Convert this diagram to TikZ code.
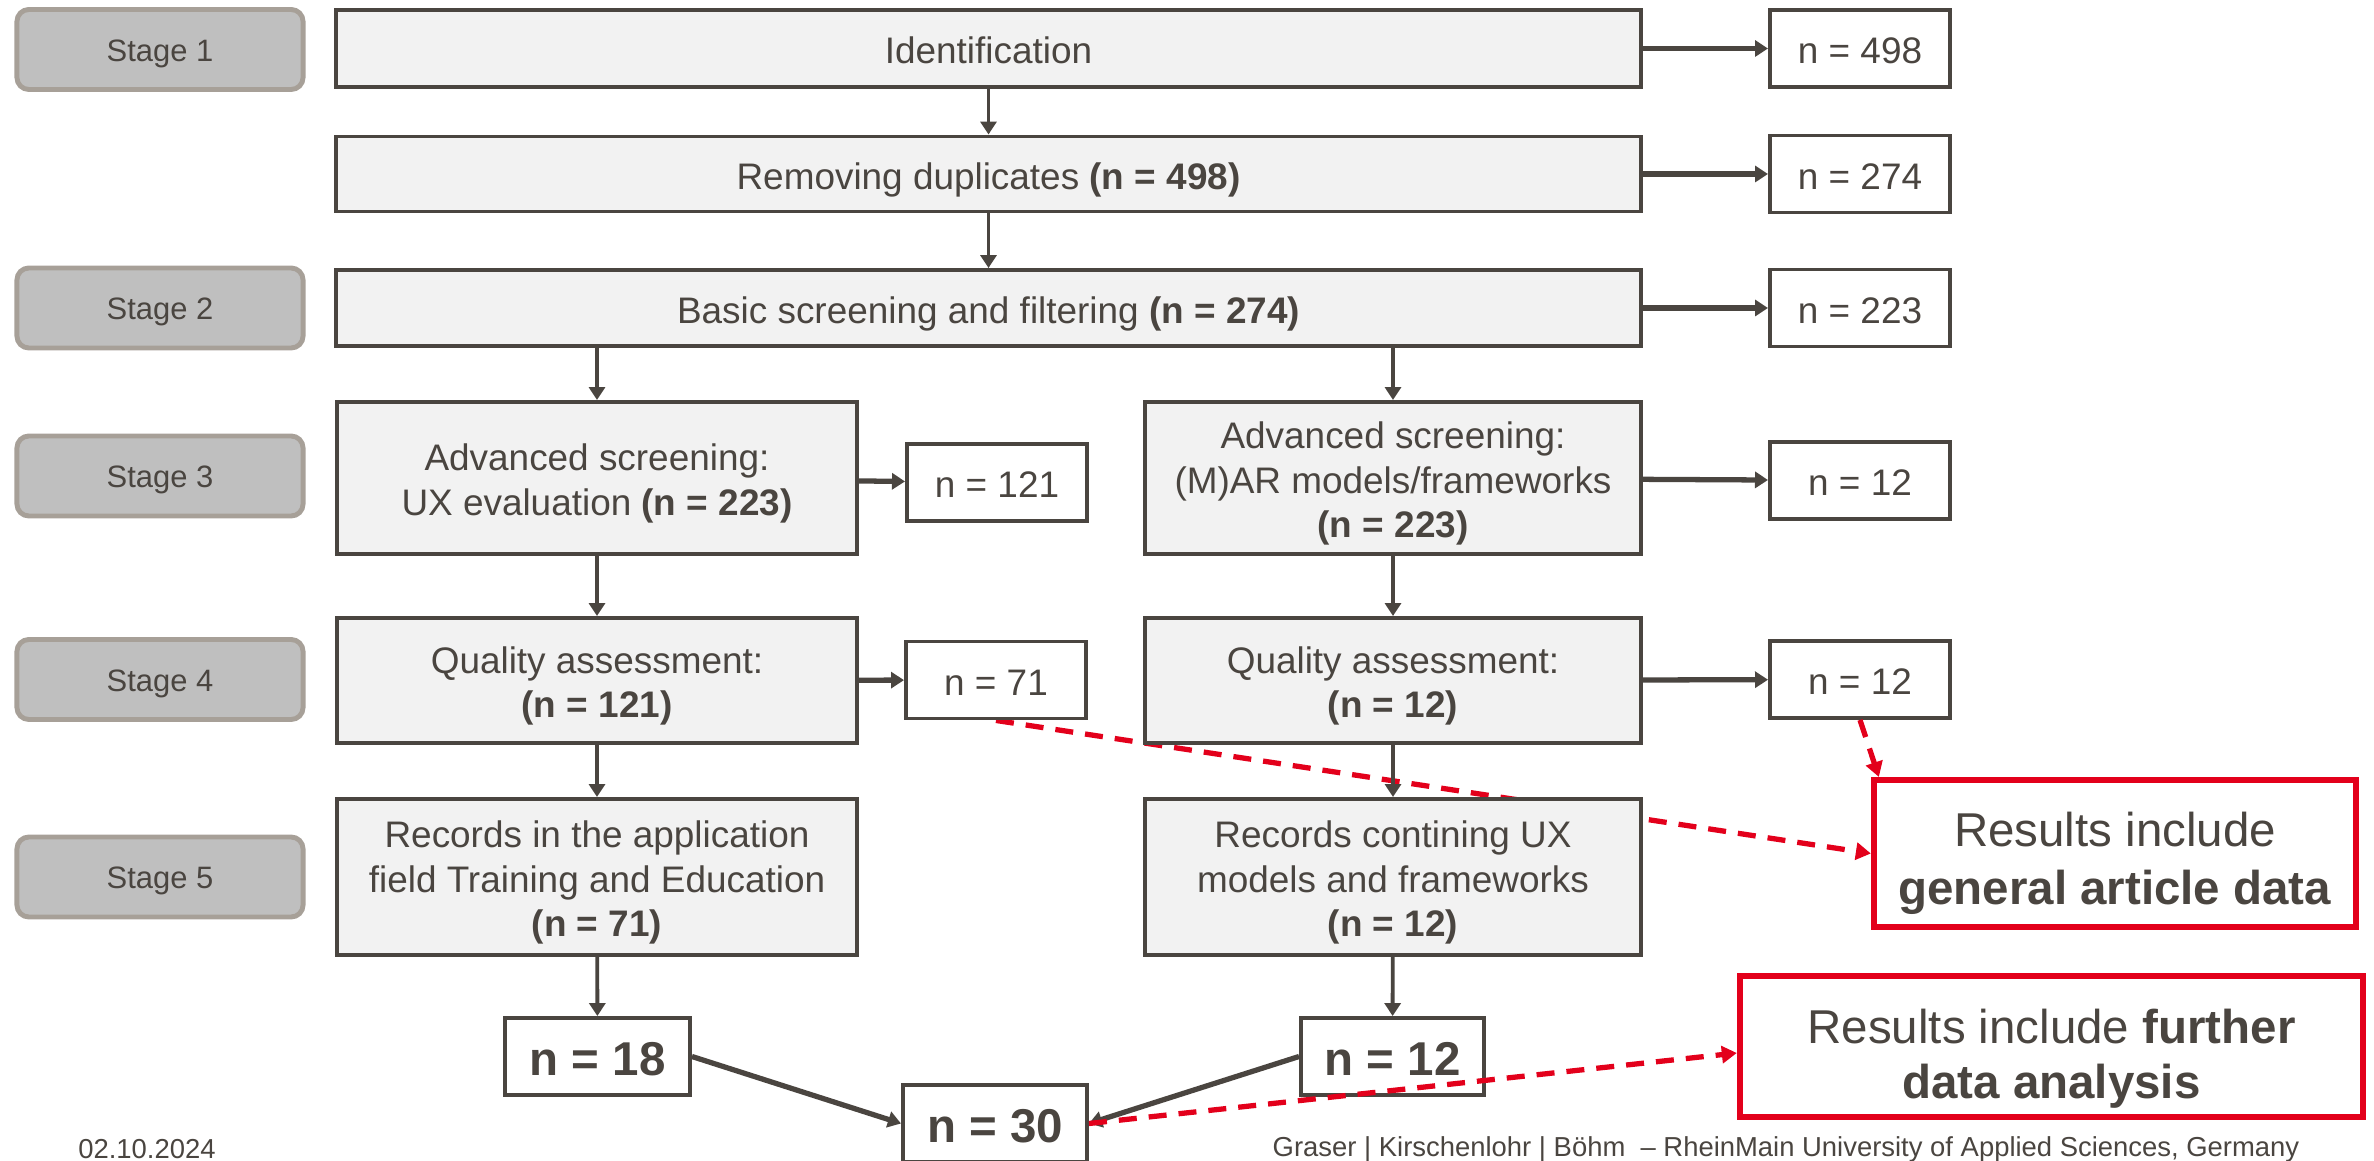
\documentclass[tikz,border=0pt]{standalone}
\usepackage{fontspec}
\setmainfont{Liberation Sans}
\usetikzlibrary{arrows.meta,backgrounds}
\definecolor{ink}{RGB}{74,69,64}
\definecolor{paper}{RGB}{242,242,242}
\definecolor{stagefill}{RGB}{191,191,191}
\definecolor{stageline}{RGB}{167,160,152}
\definecolor{unired}{RGB}{227,0,27}

\begin{document}
\begin{tikzpicture}[x=0.01cm,y=-0.01cm]
			\tikzstyle{base_node}=[draw=ink,fill=paper,rectangle,line width=1.1pt,text=ink,inner sep=0pt,font=\fontsize{10.5}{12.6}\selectfont]
			\tikzstyle{two_line}=[base_node,align=center,text height=23.35pt]
			\tikzstyle{three_line}=[base_node,align=center,text height=35.95pt]
			\tikzstyle{line_node}=[base_node,text height=8.6pt,text depth=0pt]
			\tikzstyle{side_node}=[line_node,fill=white,minimum width=1.8cm,minimum height=0.77cm]
			\tikzstyle{count_node}=[base_node,fill=white,text height=10.9pt,text depth=0pt,minimum height=0.77cm,font=\fontsize{13.5}{15}\selectfont\bfseries]
			\tikzstyle{stage_node}=[draw=stageline,fill=stagefill,rounded corners=0.12cm,line width=1.4pt,text=ink,inner sep=0pt,text height=8.6pt,text depth=1.85pt,minimum width=2.86cm,minimum height=0.8cm,font=\fontsize{8.8}{10}\selectfont]
			\tikzstyle{result_node}=[draw=unired,fill=white,line width=1.7pt,text=ink,align=center,inner sep=0pt]
			\tikzstyle{flow}=[draw=ink,line width=1.1pt,-{Triangle[length=0.13cm,width=0.16cm]}]
			\tikzstyle{flow_thick}=[flow,line width=1.5pt]
			\tikzstyle{to_result}=[draw=unired,line width=1.5pt,dash pattern=on 0.18cm off 0.12cm,-{Triangle[length=0.15cm,width=0.17cm]}]
			\useasboundingbox (0,0) rectangle (2374,1161);
			% stages
			\node [stage_node] (s1) at (160,49.5) {Stage 1};
			\node [stage_node] (s2) at (160,308) {Stage 2};
			\node [stage_node] (s3) at (160,476) {Stage 3};
			\node [stage_node] (s4) at (160,679.5) {Stage 4};
			\node [stage_node] (s5) at (160,877) {Stage 5};
			% main flow
			\node [line_node,minimum width=13.05cm,minimum height=0.77cm] (id) at (988.5,48.5) {Identification};
			\node [line_node,minimum width=13.05cm,minimum height=0.75cm] (dup) at (988.5,174) {Removing duplicates \textbf{(n = 498)}};
			\node [line_node,minimum width=13.05cm,minimum height=0.76cm] (basic) at (988.5,308) {Basic screening and filtering \textbf{(n = 274)}};
			\node [two_line,minimum width=5.2cm,minimum height=1.52cm] (advL) at (597,478) {Advanced screening:\\UX evaluation \textbf{(n = 223)}};
			\node [three_line,minimum width=4.96cm,minimum height=1.52cm] (advR) at (1393,478) {Advanced screening:\\(M)AR models/frameworks\\\textbf{(n = 223)}};
			\node [two_line,minimum width=5.2cm,minimum height=1.25cm] (qL) at (597,680.5) {Quality assessment:\\\textbf{(n = 121)}};
			\node [two_line,minimum width=4.96cm,minimum height=1.25cm] (qR) at (1393,680.5) {Quality assessment:\\\textbf{(n = 12)}};
			\node [three_line,minimum width=5.2cm,minimum height=1.56cm] (recL) at (597,877) {Records in the application\\field Training and Education\\\textbf{(n = 71)}};
			\node [three_line,minimum width=4.96cm,minimum height=1.56cm] (recR) at (1393,877) {Records contining UX\\models and frameworks\\\textbf{(n = 12)}};
			% excluded records
			\node [side_node] (r1) at (1860,48.5) {n = 498};
			\node [side_node] (r2) at (1860,174) {n = 274};
			\node [side_node] (r3) at (1860,308) {n = 223};
			\node [side_node] (r4) at (1860,480.5) {n = 12};
			\node [side_node] (r5) at (1860,679.5) {n = 12};
			\node [side_node] (n121) at (997,482.5) {n = 121};
			\node [side_node] (n71) at (996,680) {n = 71};
			% final counts
			\node [count_node,minimum width=1.85cm] (n18) at (597.5,1056.5) {n = 18};
			\node [count_node,minimum width=1.83cm] (n12b) at (1392.5,1056.5) {n = 12};
			\node [count_node,minimum width=1.84cm] (n30) at (995,1123.5) {n = 30};
			% results
			\node [result_node,text height=31.8pt,font=\fontsize{13.5}{16.4}\selectfont,minimum width=4.82cm,minimum height=1.47cm] (res1) at (2115,853.5) {Results include\\\textbf{general article data}};
			\node [result_node,text height=32.1pt,font=\fontsize{13.5}{15.5}\selectfont,minimum width=6.23cm,minimum height=1.41cm] (res2) at (2051.5,1046.5) {Results include \textbf{further}\\\textbf{data analysis}};
			% footer
			\node [text=ink,font=\fontsize{7.8}{9}\selectfont] (date) at (147,1149) {02.10.2024};
			\node [text=ink,font=\fontsize{7.8}{9}\selectfont] (credits) at (1786,1149) {Graser | Kirschenlohr | Böhm\ \ – RheinMain University of Applied Sciences, Germany};
			% connectors
			\draw [flow] (id) -- (dup);
			\draw [flow] (dup) -- (basic);
			\draw [flow] (advL |- basic.south) -- (advL.north);
			\draw [flow] (advR |- basic.south) -- (advR.north);
			\draw [flow] (advL) -- (qL);
			\draw [flow] (qL) -- (recL);
			\draw [flow] (recL) -- (n18);
			\draw [flow] (advR) -- (qR);
			\draw [flow] (qR) -- (recR);
			\draw [flow] (recR) -- (n12b);
			\draw [flow_thick] (id) -- (r1);
			\draw [flow_thick] (dup) -- (r2);
			\draw [flow_thick] (basic) -- (r3);
			\draw [flow_thick] (advL) -- (n121);
			\draw [flow_thick] (advR) -- (r4);
			\draw [flow_thick] (qL) -- (n71);
			\draw [flow_thick] (qR) -- (r5);
			\draw [flow_thick] (n18.east) -- (n30.west);
			\draw [flow_thick] (n12b.west) -- (n30.east);
			\begin{scope}[on background layer]
				\draw [to_result] (n71.south) -- (res1.west);
			\end{scope}
			\draw [to_result] (r5.south) -- ([xshift=0.08cm]res1.north west);
			\draw [to_result] (n30.east) -- ([yshift=-0.065cm]res2.west);
		\end{tikzpicture}
\end{document}
